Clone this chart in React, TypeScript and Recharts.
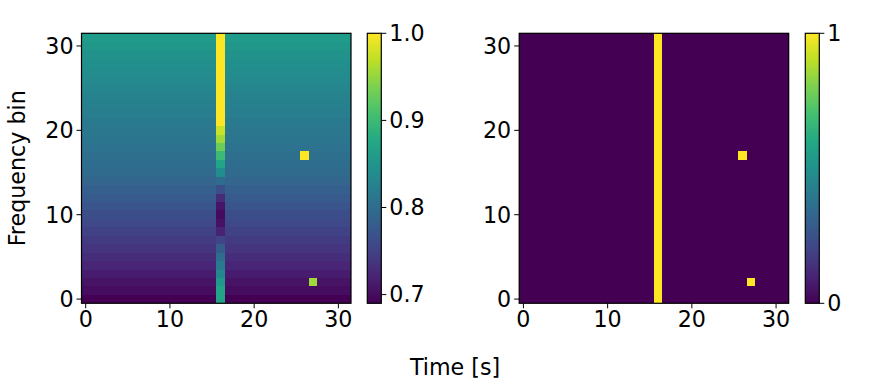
import { ScatterChart, Scatter, XAxis, YAxis } from 'recharts';

const timeTicks = [0, 10, 20, 30];
const freqTicks = [0, 10, 20, 30];
const nBins = 32;

// background level of every frequency row, bottom row first
const rowLevels = [
  0.69, 0.7, 0.706, 0.714, 0.722, 0.73, 0.737, 0.743, 0.75, 0.757, 0.764, 0.771, 0.778, 0.784, 0.79, 0.797,
  0.8, 0.803, 0.806, 0.81, 0.813, 0.817, 0.82, 0.824, 0.828, 0.832, 0.836, 0.84, 0.844, 0.848, 0.853, 0.858,
];
// column at t = 16, bottom row first
const burstColumn = 16;
const burstLevels = [
  0.87, 0.87, 0.854, 0.833, 0.817, 0.8, 0.78, 0.752, 0.72, 0.705, 0.698, 0.708, 0.727, 0.764, 0.8, 0.84,
  0.87, 0.9, 0.93, 0.955, 0.975, 1, 1, 1, 1, 1, 1, 1, 1, 1, 1, 1,
];
const spotTimes = [26, 27];
const spotFreqs = [17, 2];
const spotLevels = [1, 0.955];
const maskSpotLevels = [1, 1];

const levelDomain: [number, number] = [0.69, 1];
const levelTicks = [0.7, 0.8, 0.9, 1.0];
const maskDomain: [number, number] = [0, 1];
const maskTicks = [0, 1];

const viridis = ['#440154', '#482475', '#414487', '#355f8d', '#2a788e', '#21918c', '#22a884', '#44bf70', '#7ad151', '#bddf26', '#fde725'];

const hexToRgb = (h: string) => [1, 3, 5].map(i => parseInt(h.slice(i, i + 2), 16));

const colorAt = (t: number) => {
  const c = Math.max(0, Math.min(1, t)) * (viridis.length - 1);
  const i = Math.min(Math.floor(c), viridis.length - 2);
  const a = hexToRgb(viridis[i]);
  const b = hexToRgb(viridis[i + 1]);
  const rgb = a.map((v, k) => Math.round(v + (b[k] - v) * (c - i)));
  return `rgb(${rgb.join(',')})`;
};

const buildCells = (rows: number[], burst: number[], spots: number[]) => {
  const cells: { t: number; f: number; v: number }[] = [];
  for (let f = 0; f < nBins; f++) {
    for (let t = 0; t < nBins; t++) {
      const spot = spotTimes.findIndex((st, i) => st === t && spotFreqs[i] === f);
      const v = t === burstColumn ? burst[f] : spot >= 0 ? spots[spot] : rows[f];
      cells.push({ t, f, v });
    }
  }
  return cells;
};

const levelCells = buildCells(rowLevels, burstLevels, spotLevels);
const maskCells = buildCells(rowLevels.map(() => 0), burstLevels.map(() => 1), maskSpotLevels);
const frameCorner = [{ t: -0.5, f: -0.5 }];

const FONT = '"DejaVu Sans"';
const FONT_SIZE = 22.2;
const tickStyle = { fill: '#000', fontSize: FONT_SIZE, fontFamily: FONT };
const PLOT_H = 270;
const PLOT_W = 269.5;
const BAR_W = 14;

const Heatmap = ({ cells, domain, left, width, yWidth, label }: any) => {
  const cw = PLOT_W / nBins;
  const ch = PLOT_H / nBins;
  const CellShape = (props: any) => {
    const { cx, cy, payload } = props;
    const t = (payload.v - domain[0]) / (domain[1] - domain[0]);
    const x0 = Math.round(cx - cw / 2);
    const x1 = Math.round(cx + cw / 2);
    const y0 = Math.round(cy - ch / 2);
    const y1 = Math.round(cy + ch / 2);
    return <rect x={x0} y={y0} width={x1 - x0} height={y1 - y0} fill={colorAt(t)} shapeRendering="crispEdges" />;
  };
  const FrameShape = ({ cx, cy }: any) => (
    <rect x={cx} y={cy - PLOT_H} width={PLOT_W} height={PLOT_H} fill="none" stroke="#000" strokeWidth={1.2} />
  );
  return (
    <div style={{ position: 'absolute', left, top: 0 }}>
      <ScatterChart width={width} height={388} margin={{ top: 33.3, right: width - yWidth - PLOT_W, left: 0, bottom: 0 }}>
        <XAxis
          type="number"
          dataKey="t"
          domain={[-0.5, 31.5]}
          ticks={timeTicks}
          interval={0}
          height={388 - 33.3 - PLOT_H}
          axisLine={false}
          tickSize={5}
          tickLine={{ stroke: '#000', strokeWidth: 1 }}
          tick={tickStyle}
          tickMargin={3}
        />
        <YAxis
          type="number"
          dataKey="f"
          domain={[-0.5, 31.5]}
          ticks={freqTicks}
          interval={0}
          width={yWidth}
          axisLine={false}
          tickSize={5}
          tickLine={{ stroke: '#000', strokeWidth: 1 }}
          tick={tickStyle}
          tickMargin={3}
          label={
            label
              ? { value: label, angle: -90, position: 'insideLeft', offset: 0, dx: 17, style: { fill: '#000', fontSize: FONT_SIZE, fontFamily: FONT, textAnchor: 'middle' } }
              : undefined
          }
        />
        <Scatter data={cells} isAnimationActive={false} shape={CellShape} />
        <Scatter data={frameCorner} isAnimationActive={false} shape={FrameShape} />
      </ScatterChart>
    </div>
  );
};

const Colorbar = ({ id, domain, ticks, left, digits }: any) => {
  const BarShape = ({ cx, cy }: any) => (
    <g>
      <defs>
        <linearGradient id={id} x1="0" y1="1" x2="0" y2="0">
          {viridis.map((c, i) => (
            <stop key={c} offset={i / (viridis.length - 1)} stopColor={c} />
          ))}
        </linearGradient>
      </defs>
      <rect x={cx} y={cy - PLOT_H} width={BAR_W} height={PLOT_H} fill={`url(#${id})`} stroke="#000" strokeWidth={1.2} />
    </g>
  );
  return (
    <div style={{ position: 'absolute', left, top: 0 }}>
      <ScatterChart width={80} height={388} margin={{ top: 33.3, right: 0, left: 7.3, bottom: 388 - 33.3 - PLOT_H }}>
        <XAxis type="number" dataKey="x" domain={[0, 1]} hide />
        <YAxis
          type="number"
          dataKey="y"
          orientation="right"
          domain={domain}
          ticks={ticks}
          interval={0}
          width={80 - 7.3 - BAR_W}
          axisLine={false}
          tickSize={5}
          tickLine={{ stroke: '#000', strokeWidth: 1 }}
          tick={tickStyle}
          tickMargin={3}
          tickFormatter={(v: number) => v.toFixed(digits)}
        />
        <Scatter data={[{ x: 0, y: domain[0] }]} isAnimationActive={false} shape={BarShape} />
      </ScatterChart>
    </div>
  );
};

export default function App() {
  return (
    <div style={{ position: 'absolute', left: 0, top: 0, width: 883, height: 388, background: '#fff', overflow: 'hidden' }}>
      <Heatmap cells={levelCells} domain={levelDomain} left={0} width={360} yWidth={81.5} label="Frequency bin" />
      <Colorbar id="cbLeft" domain={levelDomain} ticks={levelTicks} left={360} digits={1} />
      <Heatmap cells={maskCells} domain={maskDomain} left={440} width={360} yWidth={79.2} />
      <Colorbar id="cbRight" domain={maskDomain} ticks={maskTicks} left={798} digits={0} />
      <div style={{ position: 'absolute', left: 0, width: 910, top: 354, textAlign: 'center', fontFamily: FONT, fontSize: FONT_SIZE, color: '#000', lineHeight: '26px' }}>
        Time [s]
      </div>
    </div>
  );
}
